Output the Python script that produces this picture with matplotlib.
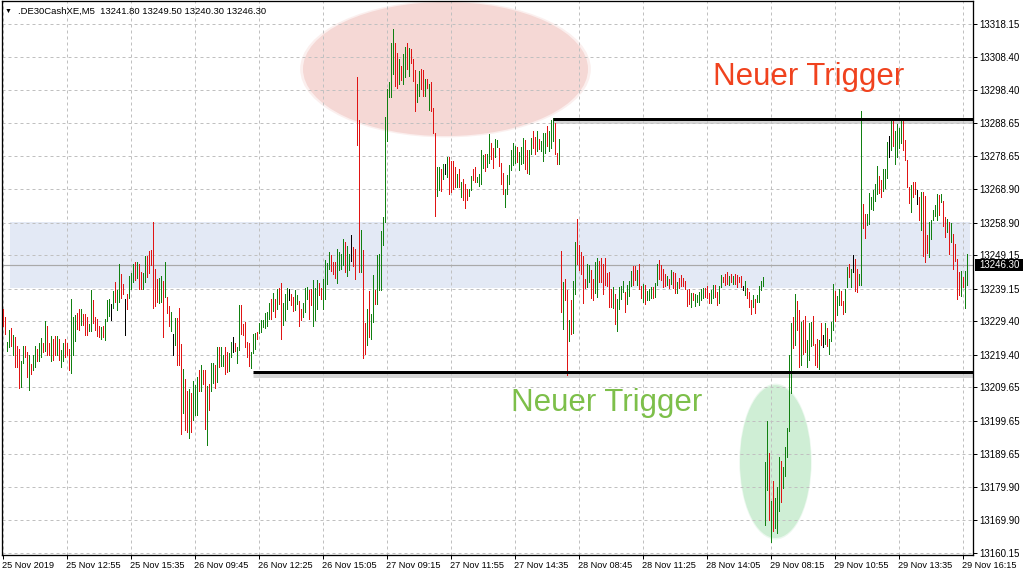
import matplotlib
matplotlib.use("Agg")
import matplotlib.pyplot as plt
from matplotlib.patches import Ellipse, Rectangle

plt.rcParams['font.family'] = ['Liberation Sans', 'DejaVu Sans']

symbol = ".DE30CashXE,M5"
last_ohlc = [13241.80, 13249.50, 13240.30, 13246.30]

# M5 bars, one per 5 minutes
highs = [
    13233.1, 13230.6, 13223.3, 13226.8, 13227.5, 13225.3, 13224.8, 13222.1, 13221.2, 13217.6,
    13221.9, 13221.9, 13220.3, 13219.4, 13216.7, 13219.4, 13222.1, 13221.0, 13223.0, 13224.4,
    13223.0, 13229.3, 13228.0, 13223.0, 13225.0, 13224.0, 13225.0, 13225.0, 13224.0, 13220.8,
    13223.0, 13224.0, 13223.0, 13221.0, 13235.9, 13230.7, 13231.1, 13231.9, 13233.0, 13233.0,
    13231.5, 13231.5, 13230.7, 13228.6, 13238.6, 13235.6, 13230.7, 13230.0, 13227.8, 13227.6,
    13227.8, 13230.0, 13235.7, 13236.0, 13234.6, 13238.4, 13241.2, 13238.6, 13246.4, 13243.6,
    13240.4, 13236.1, 13237.6, 13243.0, 13243.7, 13246.4, 13247.0, 13247.0, 13246.4, 13244.2,
    13243.9, 13248.8, 13248.8, 13250.3, 13250.8, 13259.2, 13245.1, 13242.0, 13242.4, 13243.0,
    13241.5, 13247.0, 13236.6, 13234.0, 13232.0, 13225.6, 13230.2, 13230.4, 13233.2, 13222.6,
    13215.0, 13212.2, 13208.4, 13209.2, 13208.0, 13211.5, 13210.4, 13212.6, 13214.9, 13216.4,
    13214.9, 13214.9, 13209.9, 13210.5, 13217.0, 13217.0, 13216.4, 13221.7, 13221.7, 13221.7,
    13219.2, 13221.7, 13220.2, 13220.0, 13223.2, 13224.8, 13223.0, 13221.6, 13234.1, 13234.1,
    13228.6, 13229.1, 13223.1, 13222.9, 13220.1, 13225.6, 13225.8, 13226.1, 13228.8, 13229.6,
    13229.6, 13231.8, 13232.1, 13234.8, 13235.9, 13237.9, 13236.1, 13239.1, 13239.3, 13240.8,
    13234.8, 13237.6, 13239.3, 13239.1, 13237.6, 13236.6, 13238.6, 13237.1, 13235.4, 13233.1,
    13234.8, 13239.3, 13239.6, 13238.6, 13239.1, 13241.6, 13239.4, 13241.8, 13240.8, 13239.3,
    13242.0, 13247.6, 13246.8, 13250.1, 13249.1, 13247.1, 13247.1, 13251.1, 13250.1, 13249.4,
    13253.9, 13253.1, 13251.9, 13249.4, 13255.1, 13251.6, 13251.1, 13302.4, 13289.7, 13256.8,
    13250.6, 13228.8, 13233.1, 13238.3, 13231.6, 13243.1, 13238.6, 13249.1, 13249.6, 13256.4,
    13260.6, 13290.4, 13298.9, 13300.9, 13312.7, 13316.7, 13312.7, 13309.7, 13307.7, 13305.7,
    13309.2, 13311.4, 13312.7, 13311.2, 13310.9, 13307.7, 13304.4, 13300.4, 13304.2, 13304.7,
    13304.4, 13301.7, 13301.9, 13300.4, 13300.8, 13293.0, 13285.8, 13275.5, 13275.5, 13274.8,
    13276.3, 13276.5, 13278.5, 13278.5, 13277.3, 13277.3, 13275.5, 13273.5, 13274.8, 13271.0,
    13271.8, 13270.3, 13268.8, 13269.0, 13272.8, 13275.0, 13275.5, 13272.5, 13273.5, 13280.5,
    13279.0, 13279.5, 13279.3, 13285.5, 13282.8, 13281.2, 13283.8, 13283.5, 13281.2, 13276.8,
    13273.8, 13268.8, 13273.0, 13276.0, 13280.5, 13282.8, 13281.8, 13281.5, 13280.0, 13281.5,
    13284.3, 13283.5, 13280.5, 13280.5, 13284.3, 13286.4, 13284.4, 13286.4, 13283.9, 13283.4,
    13285.7, 13285.7, 13287.9, 13286.4, 13289.7, 13290.2, 13288.7, 13279.8, 13283.8, 13250.3,
    13241.1, 13242.1, 13238.6, 13229.6, 13235.6, 13241.3, 13253.2, 13259.9, 13252.1, 13250.1,
    13248.8, 13242.1, 13246.6, 13246.1, 13244.6, 13242.1, 13247.1, 13248.3, 13247.4, 13248.3,
    13246.6, 13248.4, 13243.8, 13244.0, 13239.1, 13239.6, 13237.6, 13236.1, 13239.6, 13239.8,
    13241.4, 13238.1, 13240.1, 13241.4, 13244.4, 13245.8, 13245.8, 13244.6, 13246.6, 13239.8,
    13240.4, 13240.1, 13238.4, 13239.1, 13239.7, 13239.7, 13240.8, 13246.6, 13247.8, 13246.1,
    13245.1, 13243.6, 13242.8, 13242.1, 13244.6, 13244.1, 13243.8, 13241.1, 13242.4, 13243.1,
    13242.4, 13241.4, 13238.6, 13239.0, 13237.8, 13237.8, 13237.4, 13237.1, 13238.0, 13239.0,
    13239.3, 13239.3, 13239.8, 13237.8, 13238.6, 13240.3, 13240.1, 13238.1, 13239.8, 13243.3,
    13242.6, 13243.6, 13244.0, 13242.8, 13243.4, 13242.8, 13243.6, 13243.1, 13242.6, 13242.8,
    13239.8, 13241.3, 13239.2, 13238.0, 13235.7, 13237.2, 13235.9, 13237.2, 13239.9, 13241.4,
    13242.7, 13187.2, 13199.4, 13189.9, 13175.7, 13181.5, 13176.5, 13179.9, 13188.9, 13187.7,
    13185.7, 13191.9, 13197.5, 13219.2, 13228.7, 13230.7, 13237.5, 13235.4, 13232.7, 13229.2,
    13229.7, 13230.9, 13223.7, 13228.7, 13229.2, 13230.9, 13222.7, 13224.2, 13223.9, 13228.7,
    13225.2, 13228.7, 13227.5, 13224.2, 13229.2, 13240.5, 13238.5, 13236.9, 13238.9, 13238.5,
    13235.5, 13238.9, 13245.5, 13246.5, 13245.0, 13249.3, 13248.0, 13245.0, 13243.5, 13292.2,
    13264.3, 13261.5, 13261.3, 13267.7, 13266.5, 13268.7, 13270.5, 13275.8, 13272.7, 13271.7,
    13274.8, 13275.0, 13283.0, 13284.7, 13290.3, 13290.3, 13286.3, 13288.3, 13287.3, 13290.3,
    13289.3, 13283.5, 13277.7, 13269.5, 13270.0, 13271.0, 13271.0, 13268.5, 13266.5, 13268.0,
    13268.0, 13266.7, 13255.3, 13259.0, 13259.8, 13262.7, 13264.0, 13267.3, 13267.0, 13267.3,
    13265.3, 13260.5, 13260.0, 13259.0, 13258.7, 13255.5, 13252.5, 13248.0, 13244.0, 13244.3,
    13242.5, 13244.3, 13249.5,
]

lows = [
    13227.8, 13225.6, 13220.4, 13221.6, 13221.9, 13219.4, 13215.8, 13215.6, 13209.3, 13209.6,
    13216.9, 13218.6, 13212.6, 13208.9, 13213.6, 13214.8, 13215.8, 13217.4, 13217.4, 13218.6,
    13220.2, 13220.4, 13219.4, 13219.4, 13217.6, 13217.8, 13219.4, 13219.4, 13217.8, 13215.8,
    13217.6, 13218.6, 13219.4, 13214.8, 13213.8, 13219.4, 13223.6, 13227.2, 13226.8, 13228.3,
    13228.3, 13225.3, 13225.3, 13226.4, 13226.6, 13228.9, 13226.9, 13225.1, 13224.6, 13224.0,
    13224.6, 13223.9, 13229.4, 13231.0, 13229.6, 13233.4, 13235.0, 13232.6, 13235.2, 13236.2,
    13237.6, 13225.2, 13233.0, 13236.2, 13239.0, 13241.2, 13241.8, 13242.2, 13239.1, 13239.0,
    13239.0, 13241.2, 13242.6, 13243.8, 13246.2, 13233.4, 13233.8, 13235.1, 13234.8, 13235.1,
    13224.6, 13236.6, 13231.9, 13227.8, 13226.4, 13219.3, 13222.4, 13216.3, 13216.2, 13195.6,
    13201.9, 13196.7, 13196.1, 13194.4, 13196.2, 13199.7, 13201.2, 13201.2, 13208.5, 13208.6,
    13210.7, 13197.0, 13192.5, 13202.7, 13208.4, 13211.0, 13209.5, 13211.2, 13215.7, 13215.9,
    13215.9, 13213.7, 13214.2, 13214.4, 13218.6, 13220.1, 13220.4, 13216.8, 13220.8, 13225.6,
    13225.4, 13221.6, 13218.6, 13216.1, 13215.4, 13219.8, 13221.1, 13224.1, 13225.8, 13226.1,
    13227.6, 13227.3, 13228.0, 13230.1, 13230.0, 13232.4, 13230.6, 13233.1, 13234.6, 13224.0,
    13228.2, 13229.6, 13232.9, 13235.6, 13234.3, 13232.4, 13232.8, 13234.4, 13228.0, 13229.6,
    13230.6, 13232.2, 13235.9, 13230.1, 13234.2, 13227.9, 13229.6, 13233.1, 13237.2, 13236.0,
    13233.0, 13236.0, 13240.6, 13244.9, 13244.3, 13243.6, 13242.4, 13240.9, 13244.6, 13245.1,
    13246.1, 13244.0, 13242.9, 13244.6, 13247.4, 13245.8, 13241.9, 13282.2, 13244.1, 13244.1,
    13218.3, 13219.6, 13222.2, 13224.6, 13224.1, 13229.1, 13234.4, 13234.6, 13238.6, 13238.6,
    13252.1, 13259.1, 13283.2, 13296.3, 13296.5, 13303.4, 13299.8, 13299.0, 13300.4, 13301.4,
    13300.4, 13302.4, 13304.7, 13302.8, 13306.7, 13301.1, 13292.3, 13294.8, 13296.8, 13298.8,
    13296.8, 13296.8, 13299.0, 13292.5, 13292.3, 13285.8, 13260.9, 13266.9, 13268.6, 13268.4,
    13271.8, 13273.5, 13272.5, 13267.4, 13267.9, 13268.9, 13269.5, 13269.4, 13269.5, 13266.6,
    13265.6, 13263.3, 13265.6, 13266.9, 13268.6, 13271.5, 13271.0, 13271.0, 13269.8, 13270.5,
    13275.3, 13274.3, 13275.5, 13276.8, 13277.8, 13275.3, 13278.5, 13281.5, 13275.8, 13270.3,
    13267.4, 13263.4, 13267.4, 13270.5, 13274.5, 13276.0, 13276.8, 13277.0, 13274.5, 13276.3,
    13276.8, 13274.8, 13273.8, 13273.3, 13279.3, 13281.2, 13279.4, 13280.4, 13280.8, 13280.2,
    13277.3, 13279.7, 13281.8, 13280.4, 13281.2, 13283.3, 13279.3, 13276.3, 13276.3, 13232.1,
    13227.1, 13235.8, 13213.3, 13223.4, 13225.6, 13225.9, 13237.6, 13246.6, 13244.6, 13243.6,
    13234.8, 13239.4, 13239.6, 13241.1, 13236.4, 13235.8, 13237.8, 13236.6, 13241.1, 13241.1,
    13237.6, 13240.2, 13239.8, 13233.6, 13233.6, 13233.4, 13228.4, 13226.6, 13233.1, 13236.1,
    13238.1, 13232.1, 13234.6, 13236.8, 13239.8, 13240.3, 13241.6, 13240.3, 13239.1, 13236.4,
    13235.1, 13234.6, 13235.6, 13235.8, 13236.4, 13236.4, 13236.6, 13240.1, 13242.1, 13241.6,
    13239.6, 13240.0, 13240.1, 13239.4, 13240.6, 13239.4, 13237.8, 13237.8, 13239.4, 13239.8,
    13239.8, 13239.1, 13234.0, 13234.6, 13233.6, 13235.6, 13233.8, 13235.1, 13234.2, 13235.6,
    13236.4, 13236.6, 13236.4, 13234.8, 13234.8, 13236.4, 13236.6, 13234.3, 13234.8, 13239.6,
    13241.1, 13240.3, 13240.4, 13240.1, 13241.1, 13240.6, 13240.4, 13239.6, 13241.1, 13239.6,
    13238.6, 13237.1, 13236.2, 13233.7, 13231.4, 13233.7, 13231.9, 13235.2, 13235.2, 13238.7,
    13239.9, 13168.5, 13178.9, 13169.9, 13163.2, 13166.7, 13167.5, 13165.9, 13172.7, 13175.2,
    13179.5, 13183.2, 13188.9, 13196.5, 13207.9, 13221.5, 13222.2, 13226.7, 13215.7, 13216.4,
    13219.7, 13220.2, 13215.7, 13217.9, 13221.9, 13222.2, 13216.2, 13215.7, 13215.2, 13222.2,
    13221.7, 13222.5, 13221.9, 13219.7, 13223.5, 13226.9, 13229.5, 13231.2, 13234.2, 13234.3,
    13231.5, 13232.2, 13239.5, 13242.5, 13239.5, 13244.0, 13238.5, 13238.0, 13240.3, 13240.3,
    13257.3, 13254.3, 13258.3, 13258.5, 13262.9, 13262.5, 13265.3, 13267.3, 13267.7, 13266.5,
    13268.3, 13269.2, 13272.2, 13278.5, 13280.7, 13281.7, 13276.3, 13278.5, 13281.3, 13282.7,
    13280.7, 13277.7, 13269.5, 13264.7, 13262.0, 13266.5, 13267.3, 13264.3, 13259.7, 13256.7,
    13249.0, 13247.0, 13249.8, 13248.5, 13254.0, 13259.7, 13260.7, 13259.7, 13261.0, 13265.0,
    13258.0, 13254.5, 13256.0, 13249.5, 13253.0, 13245.0, 13247.5, 13236.0, 13237.3, 13237.0,
    13239.5, 13233.3, 13240.3,
]

# u = close above open, d = close below open, n = unchanged
moves = (
    "dduududddu" "udduduuduu" "dudduddudu" "uddduuuddu" "ddduuddddu"
    "duuunuduud" "dnduuududd" "uudddddduu" "duddunuddd" "udduduuudu"
    "dduduududu" "udduunduud" "dddduuuduu" "uuuudududd" "uuundduudd"
    "uuudduuudd" "uuuuddduuu" "uduunddddu" "dduduuduuu" "uuuuuuddud"
    "uududdduud" "dududdduud" "unuddddudu" "ddduudduuu" "uduudduudd"
    "duuuuuuduu" "udduuddudu" "uuduuuddud" "udduduuddd" "dduudduudd"
    "ddddduduuu" "uduuuddudd" "uduuuduudd" "ddududdudd" "dddduduuuu"
    "uddduudduu" "dddududddd" "nuddduduuu" "uuududuuud" "uuuuududdu"
    "dduuudddud" "nuduuuduud" "duudundduu" "dduuuuuudd" "uuunuduuuu"
    "dddduddndu" "ddduuuuudu" "ddududdddu" "duu"
)

x_labels = ["25 Nov 2019", "25 Nov 12:55", "25 Nov 15:35", "26 Nov 09:45",
            "26 Nov 12:25", "26 Nov 15:05", "27 Nov 09:15", "27 Nov 11:55",
            "27 Nov 14:35", "28 Nov 08:45", "28 Nov 11:25", "28 Nov 14:05",
            "29 Nov 08:15", "29 Nov 10:55", "29 Nov 13:35", "29 Nov 16:15"]
y_ticks = [13318.15, 13308.40, 13298.40, 13288.65, 13278.65, 13268.90,
           13258.90, 13249.15, 13239.15, 13229.40, 13219.40, 13209.65,
           13199.65, 13189.65, 13179.90, 13169.90, 13160.15]

current = 13246.30
trigger_up = 13290.0
trigger_down = 13214.1
band_low, band_high = 13239.2, 13259.0

PX = 0.72  # one pixel in points at dpi 100

fig = plt.figure(figsize=(10.24, 5.76), dpi=100)
ax = fig.add_axes([2 / 1024, 21 / 576, 971 / 1024, 554 / 576])
ax.set_xlim(-0.25, 485.25)
ax.set_ylim(13159.46, 13325.15)

# highlighted zones
ax.add_patch(Rectangle((3.75, band_low), 480, band_high - band_low,
                       facecolor='#e3e9f5', edgecolor='none', zorder=1))
for grow, alpha in [(1.02, 0.4), (1.0, 1.0)]:
    ax.add_patch(Ellipse((221.5, 13304.8), 142.5 * grow, 40.1 * grow,
                         facecolor='#f5d8d5', edgecolor='none', alpha=alpha, zorder=1))
    ax.add_patch(Ellipse((386.5, 13187.4), 35.5 * grow, 45.7 * grow,
                         facecolor='#cfeed5', edgecolor='none', alpha=alpha, zorder=1))

# bars
col = {'u': '#118011', 'd': '#e01414', 'n': '#000000'}
xs = list(range(len(highs)))
ax.vlines(xs, lows, highs, colors=[col[m] for m in moves],
          linewidth=PX, antialiased=False, zorder=3)

# current price line and trigger lines
ax.axhline(current, color='#a9a9a9', linewidth=1.2 * PX, zorder=2)
for y0, x0 in [(trigger_up, 275.25), (trigger_down, 125.25)]:
    ax.hlines(y0 - 0.7, x0, 485.25, color='#c4c4c4', linewidth=5 * PX, alpha=0.7, zorder=2.5)
    ax.hlines(y0, x0, 485.25, color='black', linewidth=3 * PX, zorder=4)

ax.text(355.25, 13300.0, "Neuer Trigger", color='#f0421e', fontsize=22.5,
        ha='left', va='baseline', zorder=5)
ax.text(254.25, 13202.5, "Neuer Trigger", color='#7dbf4a', fontsize=22.5,
        ha='left', va='baseline', zorder=5)

# axes look
ax.set_xticks(range(0, 481, 32))
ax.set_xticklabels(x_labels, ha='left')
ax.yaxis.tick_right()
ax.set_yticks(y_ticks)
ax.set_yticklabels([f"{v:.2f}" for v in y_ticks])
ax.grid(True, color='#c0c0c0', linestyle=(0, (3, 3)), linewidth=PX)
ax.tick_params(axis='x', direction='out', length=4 * PX, width=PX, pad=1.5, labelsize=6.6)
ax.tick_params(axis='y', direction='out', length=4 * PX, width=PX, pad=2, labelsize=7)
for s in ax.spines.values():
    s.set_linewidth(1.3 * PX)

# header and last-price tag
fig.text(5 / 1024, 1 - 11 / 576, "\u25bc", fontsize=5, va='center', ha='left')
fig.text(18 / 1024, 1 - 11 / 576,
         symbol + "  " + " ".join(f"{v:.2f}" for v in last_ohlc),
         fontsize=6.8, va='center', ha='left')
fig.add_artist(Rectangle((975 / 1024, 1 - 271 / 576), 48 / 1024, 12 / 576,
                         transform=fig.transFigure, facecolor='black',
                         edgecolor='none', zorder=10))
fig.text(979 / 1024, 1 - 265 / 576, f"{current:.2f}", color='white',
         fontsize=7, va='center', ha='left', zorder=11)

fig.savefig("out.png", dpi=100, facecolor='white')
